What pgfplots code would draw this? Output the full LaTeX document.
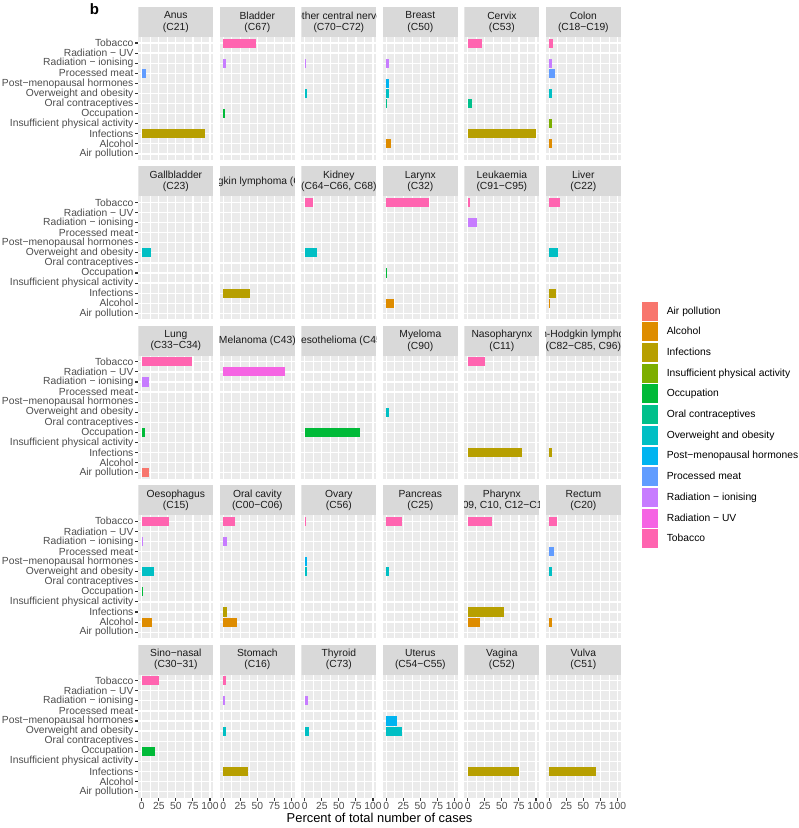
\documentclass[border=0pt]{standalone}
\usepackage{fontspec}
\setmainfont{Liberation Sans}
\usepackage{pgfplots}
\pgfplotsset{compat=1.18}

\definecolor{cAir}{HTML}{F8766D}
\definecolor{cAlc}{HTML}{DE8C00}
\definecolor{cInf}{HTML}{B79F00}
\definecolor{cIpa}{HTML}{7CAE00}
\definecolor{cOcc}{HTML}{00BA38}
\definecolor{cOra}{HTML}{00C08B}
\definecolor{cOve}{HTML}{00BFC4}
\definecolor{cPmh}{HTML}{00B4F0}
\definecolor{cPro}{HTML}{619CFF}
\definecolor{cIon}{HTML}{C77CFF}
\definecolor{cUv}{HTML}{F564E3}
\definecolor{cTob}{HTML}{FF64B0}
\definecolor{panelbg}{HTML}{EBEBEB}
\definecolor{stripbg}{HTML}{D9D9D9}
\definecolor{ticklab}{HTML}{4D4D4D}
\definecolor{tickcol}{HTML}{333333}
\definecolor{striptext}{HTML}{1A1A1A}

% category index: 0 Air pollution, 1 Alcohol, 2 Infections, 3 Insufficient physical activity,
% 4 Occupation, 5 Oral contraceptives, 6 Overweight and obesity, 7 Post-menopausal hormones,
% 8 Processed meat, 9 Radiation - ionising, 10 Radiation - UV, 11 Tobacco
\newcommand{\B}[3]{\addplot[xbar, bar shift=0pt, bar width=0.9, fill=#1, draw=none] coordinates {(#2,#3)};}

\pgfplotsset{
  facet/.style={
    scale only axis, width=75.1pt, height=123pt, anchor=south west,
    xmin=-5, xmax=105, ymin=-0.6, ymax=11.6,
    axis line style={draw=none},
    axis background/.style={fill=panelbg},
    xtick={0,25,50,75,100}, minor xtick={12.5,37.5,62.5,87.5},
    ytick={0,...,11},
    xmajorgrids, xminorgrids, ymajorgrids,
    major grid style={white, line width=1.25pt},
    minor grid style={white, line width=0.63pt},
    minor tick length=0pt,
    major tick length=3.2pt,
    tick align=outside,
    xtick pos=lower, ytick pos=left,
    tick style={tickcol, line width=1.1pt},
    /pgf/number format/assume math mode=true,
    ticklabel style={font=\fontsize{10.3}{12}\selectfont, text=ticklab},
    yticklabel style={inner xsep=1.5pt},
    xticklabel style={inner ysep=1.5pt},
  },
  firstcol/.style={yticklabels={Air pollution, Alcohol, Infections, Insufficient physical activity, Occupation, Oral contraceptives, Overweight and obesity, Post−menopausal hormones, Processed meat, Radiation − ionising, Radiation − UV, Tobacco}},
  innercol/.style={yticklabels={}, ytick style={draw=none}},
  lastrow/.style={},
  innerrow/.style={xticklabels={}, xtick style={draw=none}},
}

\newcommand{\panel}[5]{%
  \pgfmathsetmacro{\PX}{138.3+81.5*#1}%
  \pgfmathsetmacro{\PY}{828-(160+159.4*#2)}%
  \ifnum#1=0 \pgfplotsset{colsty/.style={firstcol}}\else\pgfplotsset{colsty/.style={innercol}}\fi
  \ifnum#2=4 \pgfplotsset{rowsty/.style={lastrow}}\else\pgfplotsset{rowsty/.style={innerrow}}\fi
  \begin{axis}[facet, colsty, rowsty, at={(\PX pt,\PY pt)}]
  #5
  \end{axis}
  \begin{scope}
    \clip (\PX pt,\PY pt+123pt) rectangle (\PX pt+75.1pt,\PY pt+153pt);
    \fill[stripbg] (\PX pt,\PY pt+123pt) rectangle (\PX pt+75.1pt,\PY pt+153pt);
    \node[align=center, font=\fontsize{10.3}{11.3}\selectfont, text=striptext, inner sep=0pt] at (\PX pt+37.55pt,\PY pt+138pt) {#3};
  \end{scope}
}

\begin{document}
\begin{tikzpicture}
\useasboundingbox (0pt,0pt) rectangle (799pt,828pt);

% Row 1
\panel{0}{0}{Anus\\(C21)}{}{\B{cPro}{7}{8}\B{cInf}{93}{2}}
\panel{1}{0}{Bladder\\(C67)}{}{\B{cTob}{48}{11}\B{cIon}{4}{9}\B{cOcc}{3}{4}}
\panel{2}{0}{Brain and other central nervous system\\(C70−C72)}{}{\B{cIon}{2}{9}\B{cOve}{3}{6}}
\panel{3}{0}{Breast\\(C50)}{}{\B{cIon}{4.5}{9}\B{cPmh}{4}{7}\B{cOve}{4.5}{6}\B{cOra}{1}{5}\B{cAlc}{7}{1}}
\panel{4}{0}{Cervix\\(C53)}{}{\B{cTob}{21}{11}\B{cOra}{6}{5}\B{cInf}{100}{2}}
\panel{5}{0}{Colon\\(C18−C19)}{}{\B{cTob}{6}{11}\B{cIon}{4}{9}\B{cPro}{8}{8}\B{cOve}{4}{6}\B{cIpa}{4}{3}\B{cAlc}{4}{1}}

% Row 2
\panel{0}{1}{Gallbladder\\(C23)}{}{\B{cOve}{14}{6}}
\panel{1}{1}{Hodgkin lymphoma (C81)}{}{\B{cInf}{39}{2}}
\panel{2}{1}{Kidney\\(C64−C66, C68)}{}{\B{cTob}{12}{11}\B{cOve}{18}{6}}
\panel{3}{1}{Larynx\\(C32)}{}{\B{cTob}{63}{11}\B{cOcc}{1.5}{4}\B{cAlc}{12}{1}}
\panel{4}{1}{Leukaemia\\(C91−C95)}{}{\B{cTob}{3.5}{11}\B{cIon}{14}{9}}
\panel{5}{1}{Liver\\(C22)}{}{\B{cTob}{16}{11}\B{cOve}{13}{6}\B{cInf}{10}{2}\B{cAlc}{1.5}{1}}

% Row 3
\panel{0}{2}{Lung\\(C33−C34)}{}{\B{cTob}{73}{11}\B{cIon}{10}{9}\B{cOcc}{5}{4}\B{cAir}{10}{0}}
\panel{1}{2}{Melanoma (C43)}{}{\B{cUv}{90}{10}}
\panel{2}{2}{Mesothelioma (C45)}{}{\B{cOcc}{81}{4}}
\panel{3}{2}{Myeloma\\(C90)}{}{\B{cOve}{4}{6}}
\panel{4}{2}{Nasopharynx\\(C11)}{}{\B{cTob}{25}{11}\B{cInf}{79}{2}}
\panel{5}{2}{Non-Hodgkin lymphoma\\(C82−C85, C96)}{}{\B{cInf}{3.5}{2}}

% Row 4
\panel{0}{3}{Oesophagus\\(C15)}{}{\B{cTob}{40}{11}\B{cIon}{1.5}{9}\B{cOve}{17.5}{6}\B{cOcc}{1}{4}\B{cAlc}{15.5}{1}}
\panel{1}{3}{Oral cavity\\(C00−C06)}{}{\B{cTob}{17.5}{11}\B{cIon}{6}{9}\B{cInf}{5}{2}\B{cAlc}{19.5}{1}}
\panel{2}{3}{Ovary\\(C56)}{}{\B{cTob}{1}{11}\B{cPmh}{3}{7}\B{cOve}{3}{6}}
\panel{3}{3}{Pancreas\\(C25)}{}{\B{cTob}{23.5}{11}\B{cOve}{4.5}{6}}
\panel{4}{3}{Pharynx\\(C09, C10, C12−C14)}{}{\B{cTob}{36}{11}\B{cInf}{53}{2}\B{cAlc}{18.5}{1}}
\panel{5}{3}{Rectum\\(C20)}{}{\B{cTob}{12}{11}\B{cPro}{7}{8}\B{cOve}{4}{6}\B{cAlc}{4}{1}}

% Row 5
\panel{0}{4}{Sino−nasal\\(C30−31)}{}{\B{cTob}{25}{11}\B{cOcc}{19.5}{4}}
\panel{1}{4}{Stomach\\(C16)}{}{\B{cTob}{4.5}{11}\B{cIon}{2}{9}\B{cOve}{3.5}{6}\B{cInf}{37}{2}}
\panel{2}{4}{Thyroid\\(C73)}{}{\B{cIon}{4.5}{9}\B{cOve}{6}{6}}
\panel{3}{4}{Uterus\\(C54−C55)}{}{\B{cPmh}{15.5}{7}\B{cOve}{22.5}{6}}
\panel{4}{4}{Vagina\\(C52)}{}{\B{cInf}{75}{2}}
\panel{5}{4}{Vulva\\(C51)}{}{\B{cInf}{68}{2}}

% Legend and shared labels
\begin{axis}[at={(0pt,0pt)}, anchor=south west, scale only axis, width=799pt, height=828pt,
  hide axis, xmin=0, xmax=1, ymin=0, ymax=1,
  legend cell align=left,
  legend style={at={(0.80163,0.63684)}, anchor=north west, draw=none, fill=none,
    font=\fontsize{10.3}{12}\selectfont, row sep=0pt, inner sep=0pt, outer sep=0pt,
    nodes={inner sep=0pt, outer sep=0pt},
    /tikz/every odd column/.append style={column sep=8.2pt}},
  legend image code/.code={\draw[#1, draw=white, line width=0.8pt] (0pt,-9.95pt) rectangle (17.3pt,9.95pt);}]
\addlegendimage{fill=cAir}\addlegendentry{Air pollution}
\addlegendimage{fill=cAlc}\addlegendentry{Alcohol}
\addlegendimage{fill=cInf}\addlegendentry{Infections}
\addlegendimage{fill=cIpa}\addlegendentry{Insufficient physical activity}
\addlegendimage{fill=cOcc}\addlegendentry{Occupation}
\addlegendimage{fill=cOra}\addlegendentry{Oral contraceptives}
\addlegendimage{fill=cOve}\addlegendentry{Overweight and obesity}
\addlegendimage{fill=cPmh}\addlegendentry{Post−menopausal hormones}
\addlegendimage{fill=cPro}\addlegendentry{Processed meat}
\addlegendimage{fill=cIon}\addlegendentry{Radiation − ionising}
\addlegendimage{fill=cUv}\addlegendentry{Radiation − UV}
\addlegendimage{fill=cTob}\addlegendentry{Tobacco}
\end{axis}

\node[font=\fontsize{12.9}{14}\selectfont, text=black] at (379.6pt,10pt) {Percent of total number of cases};
\node[font=\bfseries\fontsize{15}{15}\selectfont] at (94.5pt,818.5pt) {b};
\end{tikzpicture}
\end{document}
